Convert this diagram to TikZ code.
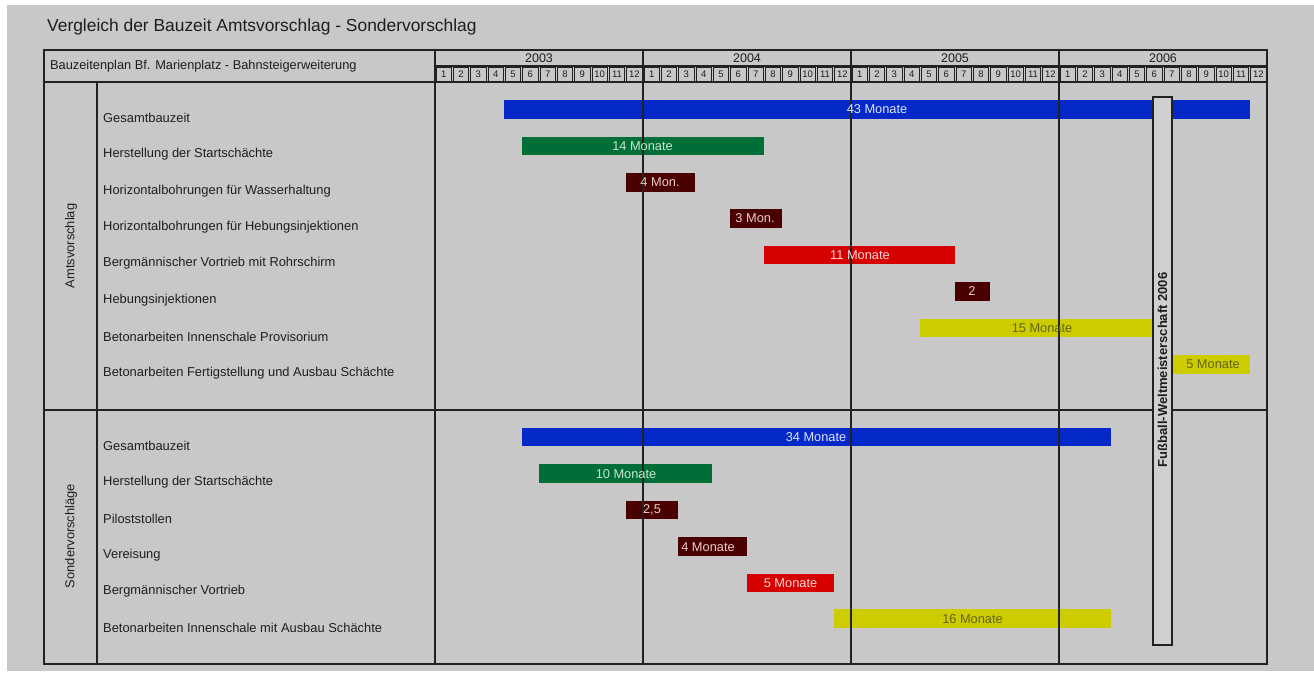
\documentclass[tikz,border=0pt]{standalone}
\usepackage{fontspec}
\setmainfont{Liberation Sans}
\definecolor{bggray}{RGB}{200,200,200}
\definecolor{linec}{RGB}{34,34,34}
\definecolor{txt}{RGB}{30,30,30}
\definecolor{cblue}{RGB}{5,40,200}
\definecolor{cgreen}{RGB}{0,110,55}
\definecolor{cmaroon}{RGB}{75,0,0}
\definecolor{cred}{RGB}{215,0,0}
\definecolor{cyellow}{RGB}{204,204,0}
\definecolor{tblue}{RGB}{220,230,255}
\definecolor{tgreen}{RGB}{200,232,200}
\definecolor{tmaroon}{RGB}{232,205,205}
\definecolor{tred}{RGB}{255,215,215}
\definecolor{tyellow}{RGB}{100,100,20}
\definecolor{wmgray}{RGB}{208,208,208}
\pgfdeclarelayer{bars}
\pgfdeclarelayer{top}
\pgfsetlayers{bars,main,top}
\newcommand\gantt[8]{%
  \begin{pgfonlayer}{bars}
  \fill[#6] ({435+#2*52/3},#4) rectangle ({435+#3*52/3},{#4+18.5});
  \end{pgfonlayer}
  \begin{pgfonlayer}{top}
  \node[bartext,text=#7] (#1) at (#5,{#4+9.5}) {#8};
  \end{pgfonlayer}
}
\begin{document}
\begin{tikzpicture}[x=1pt,y=-1pt,
  frame/.style={draw=linec,line width=1.4pt},
  bartext/.style={inner sep=0pt,font=\fontsize{12.8}{14}\selectfont},
  rowlabel/.style={anchor=west,inner sep=0pt,text=txt,font=\fontsize{12.9}{14}\selectfont},
  seclabel/.style={rotate=90,inner sep=0pt,text=txt,font=\fontsize{12.9}{14}\selectfont},
  yeartext/.style={inner sep=0pt,text=txt,font=\fontsize{12.5}{14}\selectfont},
  monthcell/.style={draw=linec,line width=0.7pt,inner sep=0pt,minimum width=15.6pt,minimum height=14pt,text=txt,font=\fontsize{9.5}{10}\selectfont}]
\begin{pgfonlayer}{bars}
\useasboundingbox (0,0) rectangle (1314,673);
\fill[white] (0,0) rectangle (1314,673);
\fill[bggray] (7,5) rectangle (1314,671);
\end{pgfonlayer}
% title
\node[anchor=west,inner sep=0pt,text=txt,font=\fontsize{17.4}{20}\selectfont] (title) at (47,27) {Vergleich der Bauzeit Amtsvorschlag - Sondervorschlag};
\node[anchor=west,inner sep=0pt,text=txt,font=\fontsize{12.8}{14}\selectfont] (head) at (50,66) {Bauzeitenplan Bf. Marienplatz - Bahnsteigerweiterung};
% bars Amtsvorschlag
\gantt{a1}{4}{47}{100}{877}{cblue}{tblue}{43 Monate}
\gantt{a2}{5}{19}{136.5}{642.5}{cgreen}{tgreen}{14 Monate}
\gantt{a3}{11}{15}{173}{660}{cmaroon}{tmaroon}{4 Mon.}
\gantt{a4}{17}{20}{209}{755}{cmaroon}{tmaroon}{3 Mon.}
\gantt{a5}{19}{30}{245.5}{860}{cred}{tred}{11 Monate}
\gantt{a6}{30}{32}{282}{972}{cmaroon}{tmaroon}{2}
\gantt{a7}{28}{41.5}{318.5}{1042}{cyellow}{tyellow}{15 Monate}
\gantt{a8}{42.5}{47}{355}{1213}{cyellow}{tyellow}{5 Monate}
% bars Sondervorschlaege
\gantt{s1}{5}{39}{427.5}{816}{cblue}{tblue}{34 Monate}
\gantt{s2}{6}{16}{464.3}{626}{cgreen}{tgreen}{10 Monate}
\gantt{s3}{11}{14}{500.8}{652}{cmaroon}{tmaroon}{2,5}
\gantt{s4}{14}{18}{537.3}{708}{cmaroon}{tmaroon}{4 Monate}
\gantt{s5}{18}{23}{573.5}{790.5}{cred}{tred}{5 Monate}
\gantt{s6}{23}{39}{609.3}{972.5}{cyellow}{tyellow}{16 Monate}
% frame and grid
\draw[frame] (44,50) rectangle (1267,664);
\draw[frame] (435,50) -- (435,664);
\draw[frame] (44,82) -- (1267,82);
\draw[frame] (97,82) -- (97,664);
\draw[frame] (44,410) -- (1267,410);
\draw[frame] (435,66) -- (1267,66);
\foreach \xx in {643,851,1059} \draw[frame] (\xx,50) -- (\xx,664);
% years and months
\foreach \yr [count=\i from 0] in {2003,2004,2005,2006} {
  \node[yeartext] (y\yr) at ({539+\i*208},58.5) {\yr};
  \foreach \m in {1,...,12} {
    \node[monthcell] (m\yr-\m) at ({435+(\i*12+\m-0.5)*52/3},74) {\m};
  }
}
% Fussball-WM bar
\draw[draw=linec,line width=1.3pt,fill=wmgray] (1153,97) rectangle (1172,645);
\node[rotate=90,inner sep=0pt,text=txt,font=\bfseries\fontsize{13}{15}\selectfont] (wm) at (1162.5,370) {Fußball-Weltmeisterschaft 2006};
% section labels
\node[seclabel] (amts) at (71,246) {Amtsvorschlag};
\node[seclabel] (sonder) at (71,536) {Sondervorschläge};
% row labels
\node[rowlabel] (ra1) at (103,117.7) {Gesamtbauzeit};
\node[rowlabel] (ra2) at (103,154.3) {Herstellung der Startschächte};
\node[rowlabel] (ra3) at (103,190.7) {Horizontalbohrungen für Wasserhaltung};
\node[rowlabel] (ra4) at (103,227.3) {Horizontalbohrungen für Hebungsinjektionen};
\node[rowlabel] (ra5) at (103,263.5) {Bergmännischer Vortrieb mit Rohrschirm};
\node[rowlabel] (ra6) at (103,300) {Hebungsinjektionen};
\node[rowlabel] (ra7) at (103,336.5) {Betonarbeiten Innenschale Provisorium};
\node[rowlabel] (ra8) at (103,373) {Betonarbeiten Fertigstellung und Ausbau Schächte};
\node[rowlabel] (rs1) at (103,446) {Gesamtbauzeit};
\node[rowlabel] (rs2) at (103,482.5) {Herstellung der Startschächte};
\node[rowlabel] (rs3) at (103,519) {Piloststollen};
\node[rowlabel] (rs4) at (103,555) {Vereisung};
\node[rowlabel] (rs5) at (103,591.5) {Bergmännischer Vortrieb};
\node[rowlabel] (rs6) at (103,627.7) {Betonarbeiten Innenschale mit Ausbau Schächte};
\end{tikzpicture}
\end{document}
